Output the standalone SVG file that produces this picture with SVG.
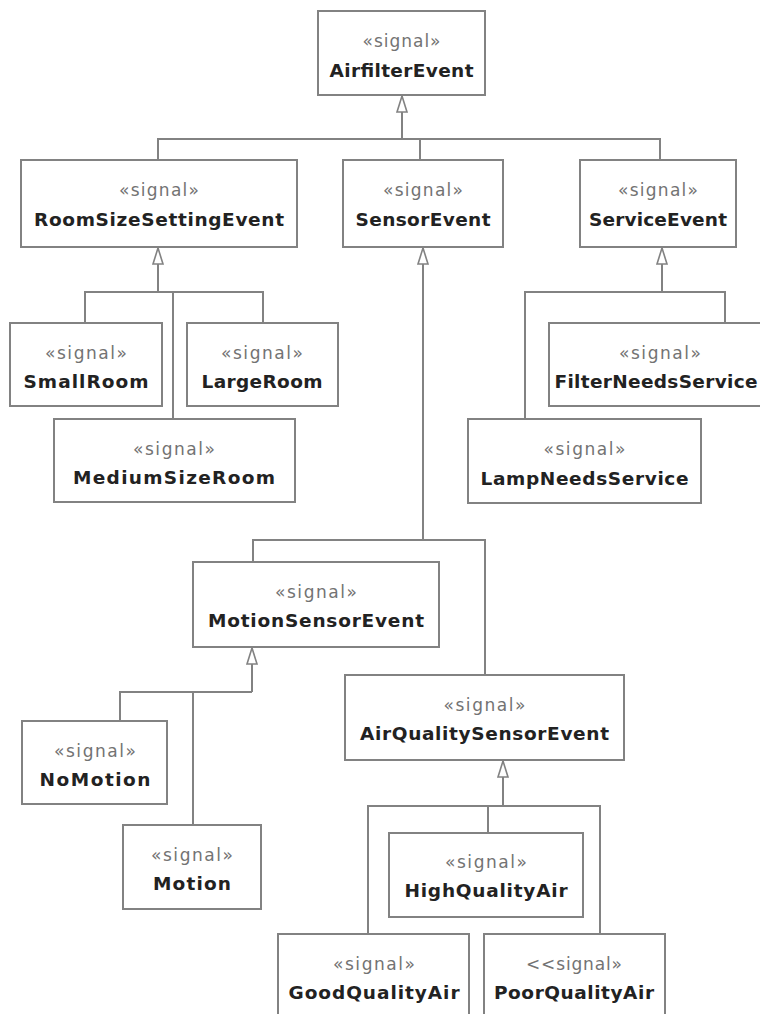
<svg xmlns="http://www.w3.org/2000/svg" width="760" height="1014" viewBox="0 0 760 1014">
<style>
.box{fill:#fff;stroke:#828282;stroke-width:2}
.st{font-family:"DejaVu Sans","Liberation Sans",sans-serif;font-size:17px;fill:#737373;text-anchor:middle}
.nm{font-family:"DejaVu Sans","Liberation Sans",sans-serif;font-size:18.5px;font-weight:bold;fill:#222;text-anchor:middle}
.ln{fill:none;stroke:#828282;stroke-width:2}
</style>
<defs>
<marker id="gen" viewBox="-1 -1 18 12" refX="16" refY="5" markerWidth="18" markerHeight="12" markerUnits="userSpaceOnUse" orient="auto">
<path d="M0,0 L16,5 L0,10 Z" fill="#fff" stroke="#828282" stroke-width="1.6"/>
</marker>
</defs>
<rect width="760" height="1014" fill="#fff"/>
<g id="connectors">
<path class="ln" d="M402,139 V96" marker-end="url(#gen)"/>
<path class="ln" d="M158,160 V139 H660 V160 M420,139 V160"/>
<path class="ln" d="M158,292 V248" marker-end="url(#gen)"/>
<path class="ln" d="M85,323 V292 H263 V323 M173,292 V419"/>
<path class="ln" d="M662,292 V248" marker-end="url(#gen)"/>
<path class="ln" d="M525,419 V292 H725 V323"/>
<path class="ln" d="M423,540 V248" marker-end="url(#gen)"/>
<path class="ln" d="M253,562 V540 H485 V675"/>
<path class="ln" d="M252,692 V648" marker-end="url(#gen)"/>
<path class="ln" d="M120,721 V692 H252 M193,692 V825"/>
<path class="ln" d="M503,806 V761" marker-end="url(#gen)"/>
<path class="ln" d="M368,934 V806 H600 V934 M488,806 V833"/>
</g>
<g id="AirfilterEvent"><rect class="box" x="318" y="11" width="167" height="84"/><text class="st" x="401.5" y="47" textLength="78">«signal»</text><text class="nm" x="401.5" y="77" textLength="144">AirfilterEvent</text></g>
<g id="RoomSizeSettingEvent"><rect class="box" x="21" y="160" width="276" height="87"/><text class="st" x="159" y="196" textLength="80">«signal»</text><text class="nm" x="159" y="226" textLength="250">RoomSizeSettingEvent</text></g>
<g id="SensorEvent"><rect class="box" x="343" y="160" width="160" height="87"/><text class="st" x="423" y="196" textLength="80">«signal»</text><text class="nm" x="423" y="226" textLength="135">SensorEvent</text></g>
<g id="ServiceEvent"><rect class="box" x="580" y="160" width="156" height="87"/><text class="st" x="658" y="196" textLength="80">«signal»</text><text class="nm" x="658" y="226" textLength="138">ServiceEvent</text></g>
<g id="SmallRoom"><rect class="box" x="10" y="323" width="152" height="83"/><text class="st" x="86" y="359" textLength="82">«signal»</text><text class="nm" x="86" y="388" textLength="125">SmallRoom</text></g>
<g id="LargeRoom"><rect class="box" x="187" y="323" width="151" height="83"/><text class="st" x="262" y="359" textLength="82">«signal»</text><text class="nm" x="262" y="388" textLength="121">LargeRoom</text></g>
<g id="MediumSizeRoom"><rect class="box" x="54" y="419" width="241" height="83"/><text class="st" x="174" y="455" textLength="82">«signal»</text><text class="nm" x="174" y="484" textLength="202">MediumSizeRoom</text></g>
<g id="FilterNeedsService"><rect class="box" x="549" y="323" width="226" height="83"/><text class="st" x="660" y="359" textLength="82">«signal»</text><text class="nm" x="656" y="388" textLength="203">FilterNeedsService</text></g>
<g id="LampNeedsService"><rect class="box" x="468" y="419" width="233" height="84"/><text class="st" x="584.5" y="455" textLength="82">«signal»</text><text class="nm" x="584.5" y="485" textLength="208">LampNeedsService</text></g>
<g id="MotionSensorEvent"><rect class="box" x="193" y="562" width="246" height="85"/><text class="st" x="316" y="598" textLength="82">«signal»</text><text class="nm" x="316" y="627" textLength="216">MotionSensorEvent</text></g>
<g id="NoMotion"><rect class="box" x="22" y="721" width="145" height="83"/><text class="st" x="95" y="757" textLength="82">«signal»</text><text class="nm" x="95" y="786" textLength="111">NoMotion</text></g>
<g id="Motion"><rect class="box" x="123" y="825" width="138" height="84"/><text class="st" x="192" y="861" textLength="82">«signal»</text><text class="nm" x="192" y="890" textLength="78">Motion</text></g>
<g id="AirQualitySensorEvent"><rect class="box" x="345" y="675" width="279" height="85"/><text class="st" x="484.5" y="711" textLength="82">«signal»</text><text class="nm" x="484.5" y="740" textLength="249">AirQualitySensorEvent</text></g>
<g id="HighQualityAir"><rect class="box" x="389" y="833" width="194" height="84"/><text class="st" x="486" y="868" textLength="82">«signal»</text><text class="nm" x="486" y="897" textLength="163">HighQualityAir</text></g>
<g id="GoodQualityAir"><rect class="box" x="278" y="934" width="191" height="90"/><text class="st" x="374" y="970" textLength="82">«signal»</text><text class="nm" x="374" y="999" textLength="171">GoodQualityAir</text></g>
<g id="PoorQualityAir"><rect class="box" x="484" y="934" width="181" height="90"/><text class="st" x="574" y="970" textLength="96">&lt;&lt;signal»</text><text class="nm" x="574" y="999" textLength="160">PoorQualityAir</text></g>
</svg>
